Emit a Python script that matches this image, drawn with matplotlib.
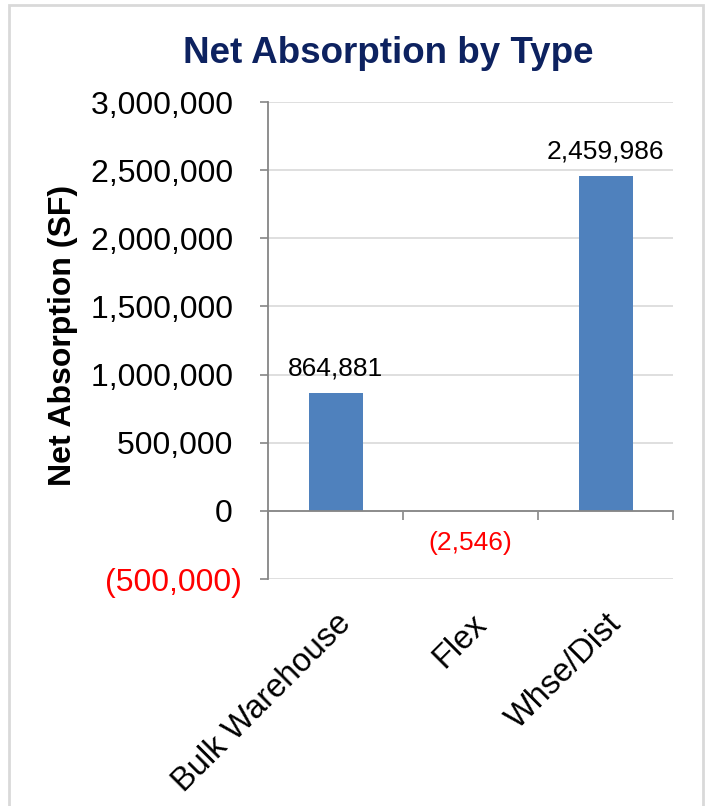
import matplotlib
matplotlib.use("Agg")
import matplotlib.pyplot as plt
from matplotlib.patches import Rectangle

plt.rcParams['font.family'] = ['Liberation Sans', 'DejaVu Sans']

categories = ['Bulk Warehouse', 'Flex', 'Whse/Dist']
absorption = [864881, -2546, 2459986]
y_ticks = [-500000, 0, 500000, 1000000, 1500000, 2000000, 2500000, 3000000]

bar_color = '#4F81BD'
title_color = '#0D2260'
axis_gray = '#868686'
grid_gray = '#D9D9D9'
neg_red = '#FF0000'


def fmt_num(v):
    # accounting style: negatives in parentheses, positives padded with a space
    if v < 0:
        return '({:,.0f})'.format(-v)
    return '{:,.0f} '.format(v)


fig = plt.figure(figsize=(7.09, 8.06), dpi=100)
ax = fig.add_axes([268 / 709, 1 - 579 / 806, 405 / 709, 477 / 806])

x = list(range(len(categories)))
ax.bar(x, absorption, width=0.4, color=bar_color, zorder=3)
ax.set_xlim(-0.5, len(categories) - 0.5)
ax.set_ylim(-500000, 3000000)

# gridlines + y axis
ax.set_yticks(y_ticks, [fmt_num(v) for v in y_ticks])
for lab, v in zip(ax.get_yticklabels(), y_ticks):
    lab.set_color(neg_red if v < 0 else 'black')
ax.tick_params(axis='y', direction='out', length=6, width=1.2, color=axis_gray,
               labelsize=23, pad=13)
ax.yaxis.grid(True, color=grid_gray, linewidth=1.2, zorder=0)
ax.set_axisbelow(True)

for side in ['top', 'right']:
    ax.spines[side].set_visible(False)
ax.spines['left'].set_color(axis_gray)
ax.spines['left'].set_linewidth(1.3)

# category axis sits on zero, ticks between categories
ax.spines['bottom'].set_position(('data', 0))
ax.spines['bottom'].set_color(axis_gray)
ax.spines['bottom'].set_linewidth(1.3)
ax.spines['bottom'].set_zorder(4)
ax.set_xticks([i - 0.5 for i in range(len(categories) + 1)])
ax.tick_params(axis='x', direction='out', length=6.5, width=1.2, color=axis_gray,
               labelbottom=False)

# category names at the bottom of the plot area
sec = ax.secondary_xaxis('bottom')
sec.set_xticks(x, categories, rotation=45, ha='right', rotation_mode='anchor')
sec.tick_params(length=0, pad=21, labelsize=23.5)
sec.spines['bottom'].set_visible(False)

# value labels
for xi, v in zip(x, absorption):
    if v >= 0:
        ax.annotate('{:,.0f}'.format(v), (xi, v), xytext=(0, 9),
                    textcoords='offset points', ha='center', va='bottom',
                    fontsize=19, color='black')
    else:
        ax.annotate('({:,.0f})'.format(-v), (xi, v), xytext=(0, -14),
                    textcoords='offset points', ha='center', va='top',
                    fontsize=19, color=neg_red)

fig.text(388 / 709, 1 - 63 / 806, 'Net Absorption by Type', ha='center',
         va='baseline', fontsize=26.5, fontweight='bold', color=title_color)
fig.text(63 / 709, 1 - 335 / 806, 'Net Absorption (SF)', rotation=90,
         ha='center', va='center', fontsize=23, fontweight='bold')

fig.patches.append(Rectangle((9 / 709, -0.05), 694 / 709, 1.05 - 5 / 806,
                             transform=fig.transFigure, fill=False,
                             edgecolor=grid_gray, linewidth=2))

fig.savefig('out.png', dpi=100, facecolor='white')
